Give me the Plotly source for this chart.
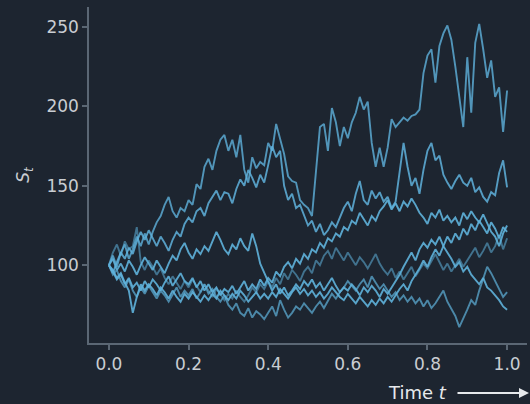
import plotly.graph_objects as go

# time grid (fractions of the horizon)
time = [i / 100 for i in range(101)]

path_1 = [100, 106, 99, 108, 113, 104, 110, 118, 112, 120,
          113, 121, 127, 131, 138, 143, 134, 130, 136, 134,
          141, 138, 151, 148, 162, 167, 160, 172, 179, 182,
          172, 179, 168, 182, 160, 152, 168, 161, 165, 163,
          177, 172, 189, 180, 170, 156, 153, 152, 141, 138,
          136, 131, 160, 187, 189, 172, 199, 190, 175, 187,
          180, 190, 196, 206, 198, 203, 177, 162, 174, 162,
          174, 192, 187, 190, 193, 191, 194, 195, 198, 221,
          232, 236, 215, 238, 246, 251, 242, 225, 205, 187,
          231, 196, 240, 252, 236, 218, 229, 206, 212, 184, 210]

path_2 = [100, 95, 102, 108, 104, 111, 107, 115, 121, 116,
          122, 117, 112, 118, 114, 109, 116, 121, 118, 126,
          130, 127, 134, 136, 131, 139, 143, 147, 141, 146,
          145, 139, 148, 154, 150, 160, 155, 149, 157, 152,
          163, 175, 168, 172, 150, 141, 145, 136, 138, 131,
          125, 128, 121, 126, 119, 122, 127, 124, 130, 136,
          140, 134, 145, 153, 141, 138, 147, 142, 146, 140,
          143, 136, 140, 160, 177, 162, 150, 155, 145, 160,
          172, 177, 166, 169, 157, 152, 148, 153, 157, 152,
          150, 155, 146, 149, 143, 140, 146, 144, 158, 166, 149]

path_3 = [100, 96, 91, 94, 88, 92, 86, 89, 84, 90,
          86, 91, 88, 84, 89, 93, 87, 91, 95, 90,
          88, 92, 86, 90, 84, 88, 83, 86, 81, 85,
          83, 87, 82, 86, 90, 84, 88, 85, 91, 87,
          92, 89, 96, 93, 99, 102, 98, 104, 101, 107,
          104, 110, 108, 114, 111, 117, 115, 120, 118, 124,
          122, 128, 126, 133, 129, 125, 131, 128, 134, 137,
          141, 135, 139, 134, 140, 137, 142, 138, 133, 130,
          126, 133, 130, 135, 128, 131, 127, 130, 125, 133,
          129, 134, 130, 127, 132, 126, 121, 118, 112, 120, 125]

path_4 = [100, 104, 97, 101, 96, 103, 99, 94, 100, 105,
          101, 97, 103, 99, 95, 101, 106, 103, 110, 114,
          108, 104, 110, 107, 112, 109, 115, 121, 116, 110,
          107, 113, 110, 117, 112, 109, 120, 112, 101, 95,
          89, 84, 88, 82, 86, 81, 84, 88, 85, 90,
          87, 91, 86, 89, 84, 88, 92, 87, 83, 86,
          84, 88, 85, 81, 86, 83, 87, 84, 80, 85,
          82, 86, 90, 94, 99, 104, 108, 103, 110, 114,
          111, 116, 113, 118, 112, 108, 104, 99, 102, 96,
          99, 94, 91, 88, 92, 86, 84, 81, 78, 74, 72]

path_5 = [100, 94, 97, 90, 86, 91, 84, 80, 86, 82,
          87, 83, 79, 84, 81, 77, 82, 86, 80, 84,
          81, 85, 79, 83, 88, 82, 85, 80, 77, 81,
          75, 72, 76, 70, 68, 73, 67, 71, 69, 66,
          70, 74, 68, 78, 72, 67, 70, 74, 72, 76,
          73, 70, 74, 77, 73, 78, 82, 79, 83, 86,
          90, 87, 84, 88, 91, 86, 93, 89, 85, 88,
          84, 80, 83, 78, 81, 77, 80, 76, 79, 74,
          78, 73, 76, 80, 84, 77, 72, 68, 61, 66,
          72, 78, 75, 84, 92, 99, 95, 90, 86, 80, 83]

path_6 = [100, 108, 113, 106, 115, 110, 112, 124, 102, 97,
          103, 99, 94, 98, 92, 88, 93, 89, 85, 90,
          86, 91, 87, 83, 88, 84, 80, 85, 82, 78,
          82, 79, 84, 80, 77, 81, 86, 83, 88, 85,
          90, 86, 92, 88, 95, 91, 97, 94, 90, 96,
          99, 95, 103, 100, 106, 109, 104, 111, 107, 103,
          108, 104, 100, 105, 102, 98, 103, 107, 101, 97,
          94, 98, 92, 96, 91, 95, 99, 93, 97, 101,
          98, 103, 107, 102, 97, 101, 96, 100, 104, 99,
          103, 107, 111, 105, 109, 114, 108, 112, 119, 110, 117]

path_7 = [100, 97, 92, 95, 89, 84, 70, 80, 88, 84,
          88, 85, 81, 86, 83, 79, 84, 80, 77, 82,
          79, 83, 80, 77, 81, 78, 82, 79, 84, 81,
          78, 82, 79, 84, 81, 77, 80, 83, 79, 82,
          79, 83, 80, 85, 82, 79, 83, 86, 82, 85,
          81, 84, 80, 83, 79, 82, 86, 83, 80, 78,
          82, 79, 76, 80, 77, 74, 78, 75, 79, 76,
          80, 77, 81, 85, 88, 84, 90, 94, 98, 103,
          99, 105, 110, 106, 112, 118, 114, 120, 116, 123,
          119, 126, 122, 128, 124, 120, 127, 123, 117, 124, 121]

paths = [path_1, path_2, path_3, path_4, path_5, path_6, path_7]
alphas = [0.8, 0.85, 0.9, 0.9, 0.7, 0.55, 0.9]

x_ticks = [0.0, 0.2, 0.4, 0.6, 0.8, 1.0]
y_ticks = [100, 150, 200, 250]

BG = "#1d2530"
AX = "#5b6774"
TXT = "#c9cdd2"
FONT = "DejaVu Sans"

fig = go.Figure()
for p, a in zip(paths, alphas):
    fig.add_trace(go.Scatter(
        x=time, y=p, mode="lines",
        line=dict(color=f"rgba(95,178,220,{a})", width=1.9),
        showlegend=False, hoverinfo="skip"))

fig.update_layout(
    width=530, height=404,
    margin=dict(l=89, r=3, t=7, b=61),
    paper_bgcolor=BG, plot_bgcolor=BG,
    font=dict(family=FONT, size=17, color=TXT),
    xaxis=dict(range=[-0.05, 1.05], tickvals=x_ticks, tickformat=".1f",
               showgrid=False, zeroline=False, showline=True, linecolor=AX,
               linewidth=1.5, ticks="outside", ticklen=5, tickwidth=1.5,
               tickcolor=AX, tickfont=dict(size=17, color=TXT)),
    yaxis=dict(range=[51, 262.6], tickvals=y_ticks,
               showgrid=False, zeroline=False, showline=True, linecolor=AX,
               linewidth=1.5, ticks="outside", ticklen=5, tickwidth=1.5,
               tickcolor=AX, tickfont=dict(size=17, color=TXT),
               title=dict(text="<i>S</i><sub><i>t</i></sub>", standoff=12,
                          font=dict(size=17, color=TXT))),
)

fig.add_annotation(xref="paper", yref="paper", x=(449 - 89) / 438,
                   y=-(392 - 343) / 336, xanchor="right", yanchor="middle",
                   text="Time <i>t</i>", showarrow=False,
                   font=dict(size=18, color="#e6e9ec"))
fig.add_annotation(xref="paper", yref="paper", x=(529 - 89) / 438,
                   y=-(393 - 343) / 336, ax=-73, ay=0, text="",
                   showarrow=True, arrowhead=2, arrowsize=1, arrowwidth=2,
                   arrowcolor="#e6e9ec")

fig.write_html(
    "out.html",
    config={"displayModeBar": False},
    post_script="document.body.style.margin='0';document.body.style.background='#1d2530';",
)
